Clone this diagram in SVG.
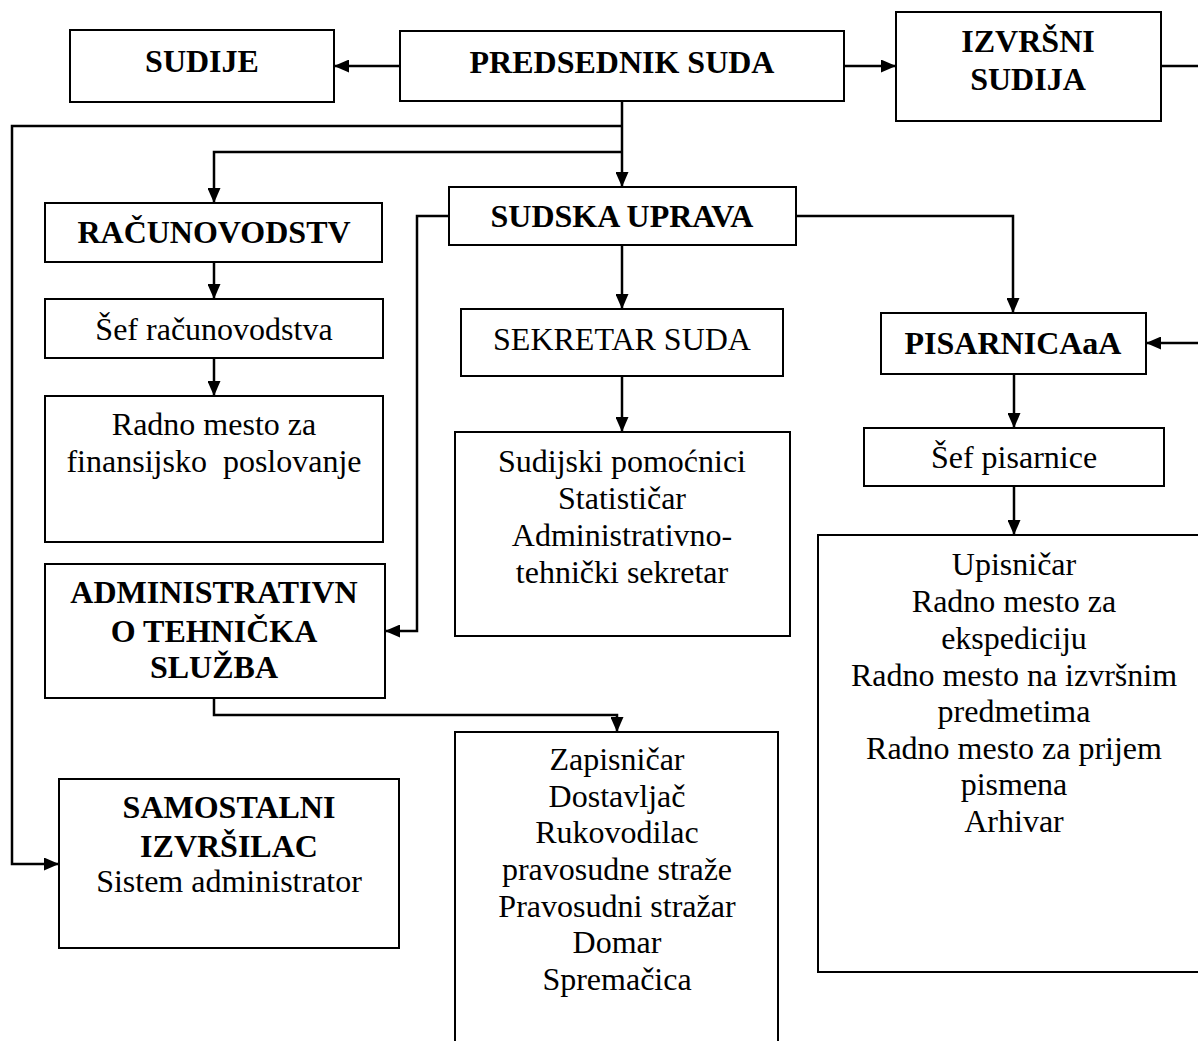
<svg xmlns="http://www.w3.org/2000/svg" width="1198" height="1041" viewBox="0 0 1198 1041">
<style>
.box{fill:#fff;stroke:#000;stroke-width:2}
.t{font-family:'Liberation Serif','DejaVu Serif',serif;font-size:32px;text-anchor:middle;fill:#000}
.b{font-weight:bold}
.c{fill:none;stroke:#000;stroke-width:2.5}
</style>
<defs>
<marker id="ah" viewBox="0 0 15 13" refX="15" refY="6.5" markerWidth="15" markerHeight="13" orient="auto" markerUnits="userSpaceOnUse">
<path d="M0,0 L15,6.5 L0,13 z" fill="#000"/>
</marker>
</defs>
<rect width="1198" height="1041" fill="#fff"/>
<g id="connectors">
<path class="c" d="M400,66 H334" marker-end="url(#ah)"/>
<path class="c" d="M844,66 H896" marker-end="url(#ah)"/>
<path class="c" d="M1161,66 H1198"/>
<path class="c" d="M622,101 V187" marker-end="url(#ah)"/>
<path class="c" d="M622,126 H12 V864 H59" marker-end="url(#ah)"/>
<path class="c" d="M622,152 H214 V203" marker-end="url(#ah)"/>
<path class="c" d="M214,262 V299" marker-end="url(#ah)"/>
<path class="c" d="M214,358 V396" marker-end="url(#ah)"/>
<path class="c" d="M449,216 H417 V631 H385" marker-end="url(#ah)"/>
<path class="c" d="M796,216 H1013 V313" marker-end="url(#ah)"/>
<path class="c" d="M622,245 V309" marker-end="url(#ah)"/>
<path class="c" d="M622,376 V432" marker-end="url(#ah)"/>
<path class="c" d="M1198,343 H1146" marker-end="url(#ah)"/>
<path class="c" d="M1014,374 V428" marker-end="url(#ah)"/>
<path class="c" d="M1014,486 V535" marker-end="url(#ah)"/>
<path class="c" d="M214,698 V715 H617 V732" marker-end="url(#ah)"/>
</g>
<g id="sudije"><rect class="box" x="70" y="30" width="264" height="72"/><text class="t b" x="202" y="72">SUDIJE</text></g>
<g id="predsednik"><rect class="box" x="400" y="31" width="444" height="70"/><text class="t b" x="622" y="73">PREDSEDNIK SUDA</text></g>
<g id="izvrsni"><rect class="box" x="896" y="12" width="265" height="109"/><text class="t b" x="1028" y="52">IZVRŠNI</text><text class="t b" x="1028" y="90">SUDIJA</text></g>
<g id="racunovodstvo"><rect class="box" x="45" y="203" width="337" height="59"/><text class="t b" x="214" y="243">RAČUNOVODSTV</text></g>
<g id="sudska"><rect class="box" x="449" y="187" width="347" height="58"/><text class="t b" x="622" y="227">SUDSKA UPRAVA</text></g>
<g id="sefrac"><rect class="box" x="45" y="299" width="338" height="59"/><text class="t" x="214" y="340">Šef računovodstva</text></g>
<g id="radno"><rect class="box" x="45" y="396" width="338" height="146"/><text class="t" x="214" y="435">Radno mesto za</text><text class="t" x="214" y="472" xml:space="preserve">finansijsko  poslovanje</text></g>
<g id="admin"><rect class="box" x="45" y="564" width="340" height="134"/><text class="t b" x="214" y="603">ADMINISTRATIVN</text><text class="t b" x="214" y="642">O TEHNIČKA</text><text class="t b" x="214" y="678">SLUŽBA</text></g>
<g id="sekretar"><rect class="box" x="461" y="309" width="322" height="67"/><text class="t" x="622" y="350">SEKRETAR SUDA</text></g>
<g id="sudijski"><rect class="box" x="455" y="432" width="335" height="204"/><text class="t" x="622" y="472">Sudijski pomoćnici</text><text class="t" x="622" y="509">Statističar</text><text class="t" x="622" y="546">Administrativno-</text><text class="t" x="622" y="583">tehnički sekretar</text></g>
<g id="pisarnica"><rect class="box" x="881" y="313" width="265" height="61"/><text class="t b" x="1013" y="354">PISARNICAaA</text></g>
<g id="sefpis"><rect class="box" x="864" y="428" width="300" height="58"/><text class="t" x="1014" y="468">Šef pisarnice</text></g>
<g id="pisarnicastaff"><rect class="box" x="818" y="535" width="400" height="437"/>
<text class="t" x="1014" y="575">Upisničar</text><text class="t" x="1014" y="612">Radno mesto za</text><text class="t" x="1014" y="649">ekspediciju</text><text class="t" x="1014" y="686">Radno mesto na izvršnim</text><text class="t" x="1014" y="722">predmetima</text><text class="t" x="1014" y="759">Radno mesto za prijem</text><text class="t" x="1014" y="795">pismena</text><text class="t" x="1014" y="832">Arhivar</text></g>
<g id="zapisnicar"><rect class="box" x="455" y="732" width="323" height="330"/>
<text class="t" x="617" y="770">Zapisničar</text><text class="t" x="617" y="807">Dostavljač</text><text class="t" x="617" y="843">Rukovodilac</text><text class="t" x="617" y="880">pravosudne straže</text><text class="t" x="617" y="917">Pravosudni stražar</text><text class="t" x="617" y="953">Domar</text><text class="t" x="617" y="990">Spremačica</text></g>
<g id="samostalni"><rect class="box" x="59" y="779" width="340" height="169"/><text class="t b" x="229" y="818">SAMOSTALNI</text><text class="t b" x="229" y="857">IZVRŠILAC</text><text class="t" x="229" y="892">Sistem administrator</text></g>
</svg>
